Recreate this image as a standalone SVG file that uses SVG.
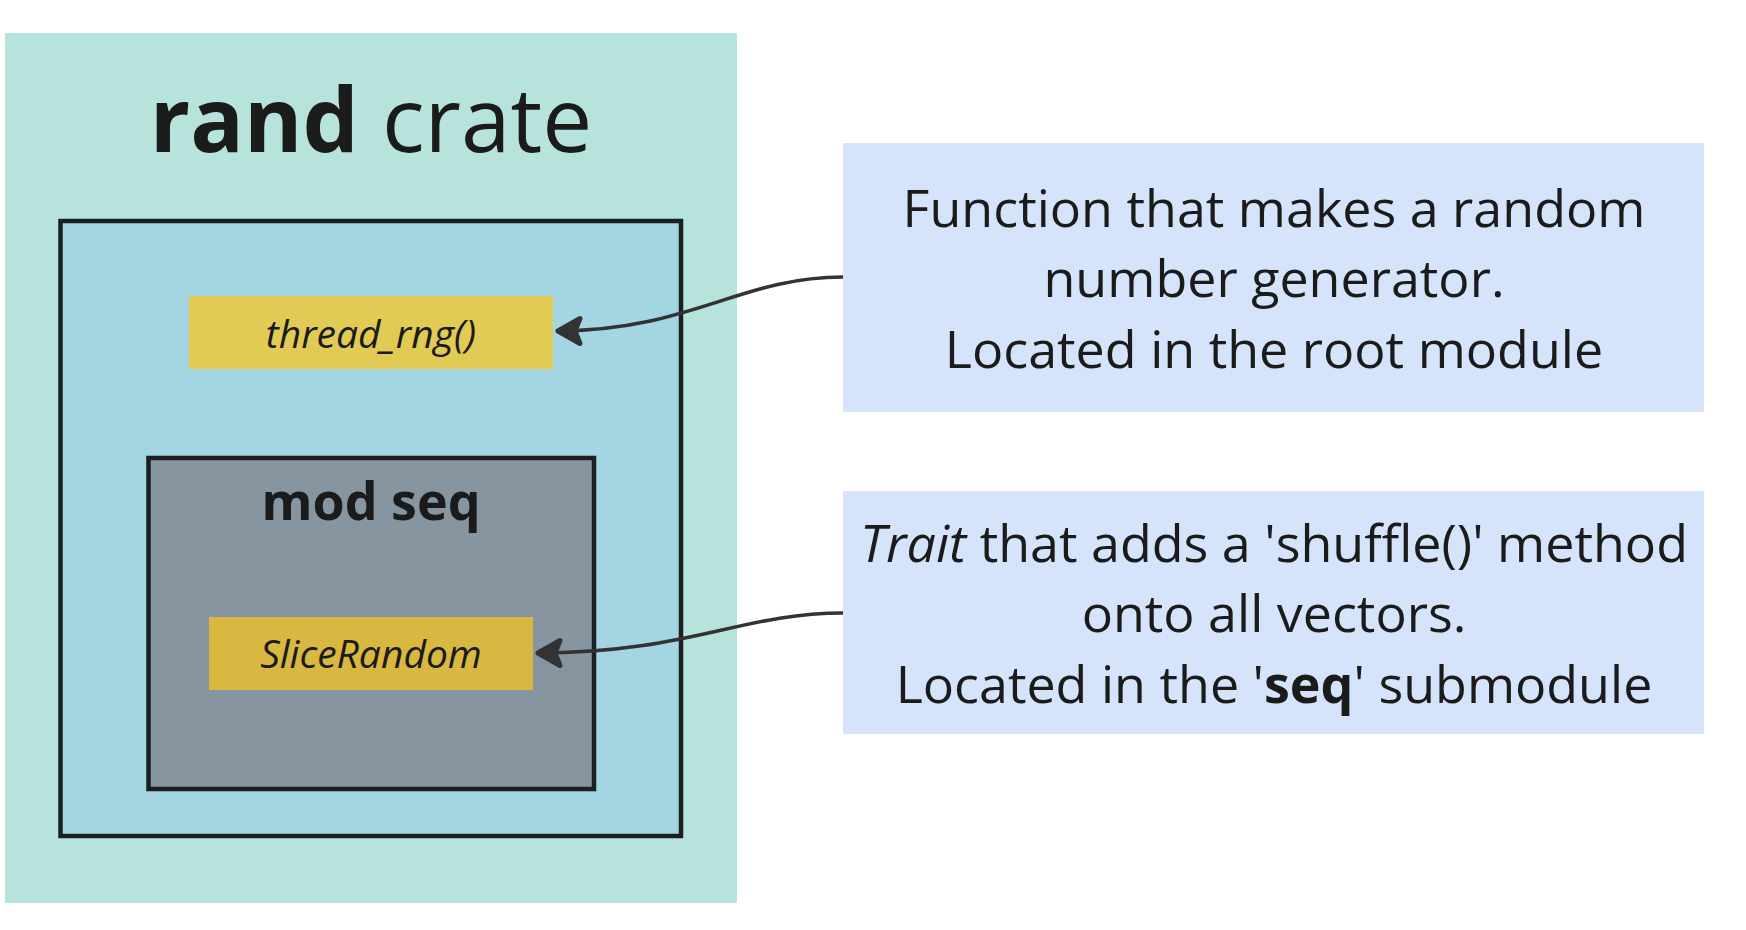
<svg xmlns="http://www.w3.org/2000/svg" width="1746" height="930" viewBox="0 0 1746 930">
<style>
  text { font-family: "Open Sans", "Noto Sans", "DejaVu Sans", sans-serif; fill: #1b1b1b; }
  .frame { stroke: #1c1f20; stroke-width: 4.5; }
  .note { fill: #d6e4fb; }
  .note-text { font-size: 52px; text-anchor: middle; }
  .item-text { font-size: 39px; font-style: italic; text-anchor: middle; }
  .conn { fill: none; stroke: #333333; stroke-width: 3.6; }
</style>
<defs>
  <marker id="arrow" markerUnits="userSpaceOnUse" viewBox="-32 -20 36 40" refX="0" refY="0" markerWidth="36" markerHeight="40" orient="auto">
    <path d="M-2,0 L-24,-12.5 L-19,0 L-24,12.5 Z" fill="#333333" stroke="#333333" stroke-width="5" stroke-linejoin="round"/>
  </marker>
</defs>
<rect width="1746" height="930" fill="#ffffff"/>
<g id="rand-crate">
  <rect x="5" y="33" width="732" height="870" fill="#b6e4dd"/>
  <text x="371" y="152" font-size="89" text-anchor="middle"><tspan font-weight="700">rand</tspan> crate</text>
</g>
<g id="root-module">
  <rect class="frame" x="60.5" y="221" width="620.5" height="615" fill="#a3d5e3"/>
</g>
<g id="thread-rng">
  <rect x="189" y="296" width="364" height="73" fill="#e1cb55"/>
  <text class="item-text" x="371" y="348">thread_rng()</text>
</g>
<g id="mod-seq">
  <rect class="frame" x="148.5" y="458" width="445.5" height="331" fill="#86959f"/>
  <text x="371" y="520" font-size="52" font-weight="700" text-anchor="middle">mod seq</text>
</g>
<g id="slice-random">
  <rect x="209" y="617" width="324" height="73" fill="#d8b840"/>
  <text class="item-text" x="371" y="668">SliceRandom</text>
</g>
<g id="note-function">
  <rect class="note" x="843" y="143" width="861" height="269"/>
  <text class="note-text" x="1274" y="227">Function that makes a random</text>
  <text class="note-text" x="1274" y="297">number generator.</text>
  <text class="note-text" x="1274" y="368">Located in the root module</text>
</g>
<g id="note-trait">
  <rect class="note" x="843" y="491" width="861" height="243"/>
  <text class="note-text" x="1274" y="562"><tspan font-style="italic">Trait</tspan> that adds a 'shuffle()' method</text>
  <text class="note-text" x="1274" y="632">onto all vectors.</text>
  <text class="note-text" x="1274" y="703">Located in the '<tspan font-weight="700">seq</tspan>' submodule</text>
</g>
<g id="connectors">
  <path class="conn" d="M843,277 C740,277 690,331 556,331" marker-end="url(#arrow)"/>
  <path class="conn" d="M843,613 C740,613 690,653 536,653" marker-end="url(#arrow)"/>
</g>
</svg>
